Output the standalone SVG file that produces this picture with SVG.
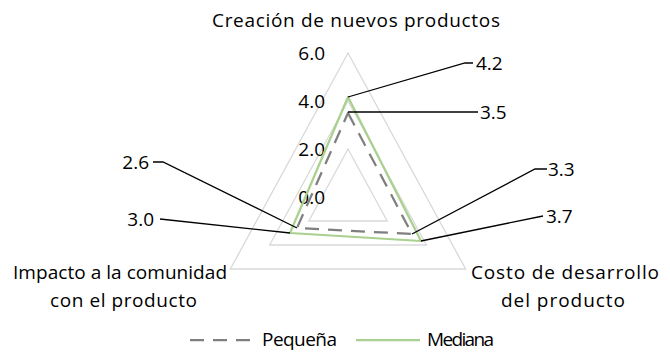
<svg xmlns="http://www.w3.org/2000/svg" width="670" height="353" viewBox="0 0 670 353">
<style>
text{font-family:"Open Sans",Lato,"Liberation Sans",sans-serif;font-size:19px;fill:#000}
.grid{fill:none;stroke:#d9d9d9;stroke-width:1.3}
.peq{fill:none;stroke:#7f7f7f;stroke-width:2.25;stroke-dasharray:14 9;stroke-linejoin:round}
.med{fill:none;stroke:#a9d08e;stroke-width:2.25;stroke-linejoin:round}
.lead{fill:none;stroke:#000;stroke-width:1.3}
</style>
<rect width="670" height="353" fill="#fff"/>
<g id="grid">
<polygon class="grid" points="348,53 465.6,269 230.4,269"/>
<polygon class="grid" points="348,101 426.4,245 269.6,245"/>
<polygon class="grid" points="348,149 387.2,221 308.8,221"/>
</g>
<g id="axis-labels">
<text x="325" y="60" text-anchor="end">6.0</text>
<text x="325" y="108" text-anchor="end">4.0</text>
<text x="325" y="156" text-anchor="end">2.0</text>
<text x="325" y="204" text-anchor="end">0.0</text>
</g>
<g id="series-pequena"><polygon class="peq" points="348,113 412,234 297,228"/></g>
<g id="series-mediana"><polygon class="med" points="348,97 421,241 290,233"/></g>
<g id="connectors">
<polyline class="lead" points="348,97 465,63 473,63"/>
<polyline class="lead" points="348,112 478,112"/>
<polyline class="lead" points="412,234 535,169 547,169"/>
<polyline class="lead" points="421,241 543,216"/>
<polyline class="lead" points="297,228 163,162 153,162"/>
<polyline class="lead" points="290,233 160,219"/>
</g>
<g id="data-labels">
<text x="476" y="70">4.2</text>
<text x="480" y="119">3.5</text>
<text x="548" y="176">3.3</text>
<text x="546" y="223">3.7</text>
<text x="149" y="169" text-anchor="end">2.6</text>
<text x="154" y="226" text-anchor="end">3.0</text>
</g>
<g id="cat-top"><text x="212" y="27" textLength="288" lengthAdjust="spacing">Creación de nuevos productos</text></g>
<g id="cat-left">
<text x="13" y="279" textLength="214" lengthAdjust="spacing">Impacto a la comunidad</text>
<text x="50" y="307" textLength="147" lengthAdjust="spacing">con el producto</text>
</g>
<g id="cat-right">
<text x="471" y="279" textLength="188" lengthAdjust="spacing">Costo de desarrollo</text>
<text x="501" y="307" textLength="124" lengthAdjust="spacing">del producto</text>
</g>
<g id="legend">
<line class="peq" x1="190" y1="340" x2="250" y2="340"/>
<text x="262" y="346" textLength="75" lengthAdjust="spacing">Pequeña</text>
<line class="med" x1="356" y1="340" x2="420" y2="340"/>
<text x="427" y="346" textLength="67" lengthAdjust="spacing">Mediana</text>
</g>
</svg>
